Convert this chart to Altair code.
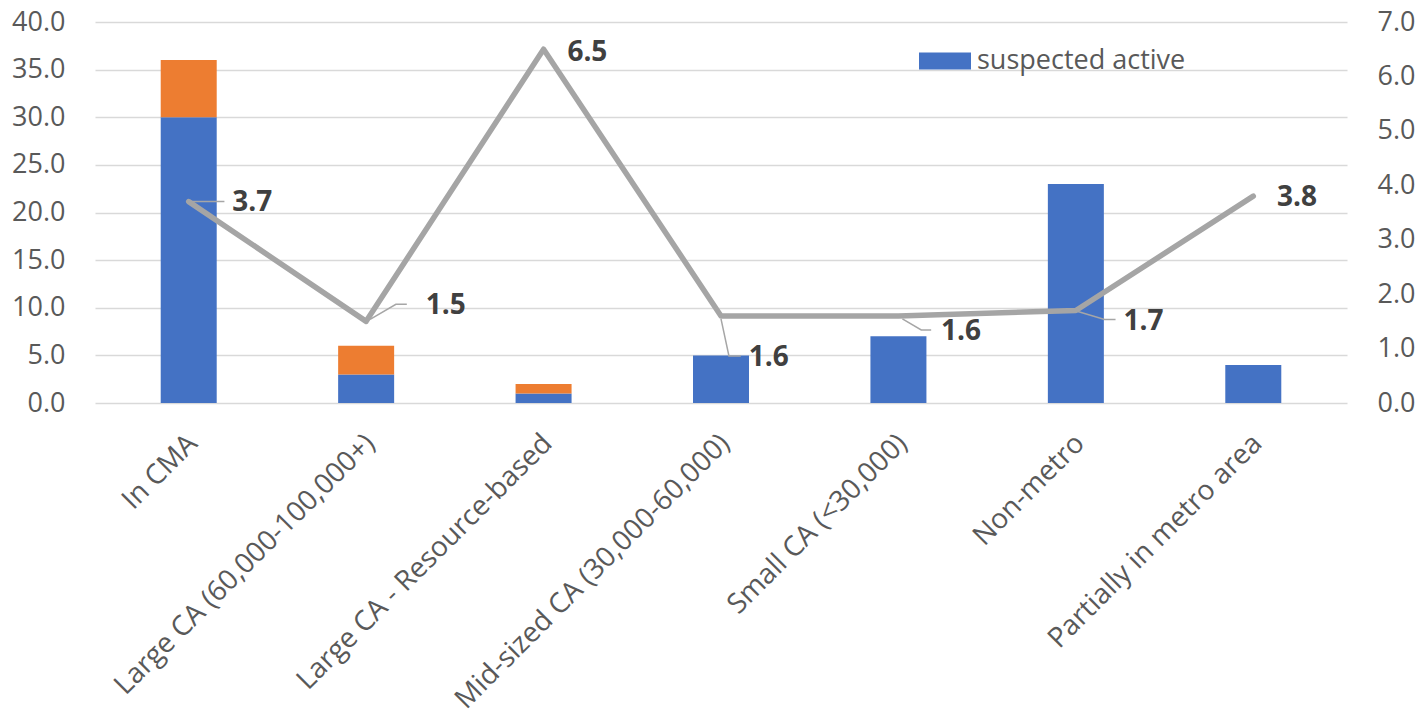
import json
import altair as alt
import pandas as pd

# ---- data ----
categories = [
    "In CMA",
    "Large CA (60,000-100,000+)",
    "Large CA - Resource-based",
    "Mid-sized CA (30,000-60,000)",
    "Small CA (<30,000)",
    "Non-metro",
    "Partially in metro area",
]
suspected_active = [30, 3, 1, 5, 7, 23, 4]
other_series = [6, 3, 1, 0, 0, 0, 0]
ratio = [3.7, 1.5, 6.5, 1.6, 1.6, 1.7, 3.8]
series_names = ["suspected active", "other"]

# ---- annotation layout (pixels, relative to each line point; +y is down) ----
leader_px = [
    [(0, 0), (18, 0), (36, 0)],
    [(4, -2), (30, -17), (41, -17)],
    None,
    [(0, 3), (8, 40), (20, 40)],
    [(4, 3), (23, 14), (33, 14)],
    [(2, 1), (29, 9), (40, 9)],
    None,
]
label_px = [(44, 1), (60, -15), (24, 4), (28, 42), (43, 16), (48, 12), (24, 2)]

W, H = 1252, 381
XU = W / 7.0   # px per category step
YU = H / 7.0   # px per right-axis unit

FONT = "Open Sans"
AX_COLOR = "#595959"
AX_SIZE = 27

# bars table
rows = []
for i, c in enumerate(categories):
    rows.append({"i": i, "series": series_names[0], "value": suspected_active[i], "ord": 0})
    rows.append({"i": i, "series": series_names[1], "value": other_series[i], "ord": 1})
bars_df = pd.DataFrame(rows)

line_df = pd.DataFrame({"i": list(range(len(categories))), "y": ratio, "ratio": ratio})

lead_rows = []
for i, pts in enumerate(leader_px):
    if pts is None:
        continue
    for k, (dx, dy) in enumerate(pts):
        lead_rows.append({"id": i, "k": k, "i": i + dx / XU, "y": ratio[i] - dy / YU})
lead_df = pd.DataFrame(lead_rows)

lab_df = pd.DataFrame({
    "i": [i + label_px[i][0] / XU for i in range(len(ratio))],
    "y": [ratio[i] - label_px[i][1] / YU for i in range(len(ratio))],
    "ratio": ratio,
})

label_expr = json.dumps(categories) + "[datum.value]"

x_scale = alt.Scale(domain=[-0.5, 6.5], nice=False, zero=False)
x_axis = alt.Axis(
    values=list(range(7)), labelExpr=label_expr, labelAngle=-45,
    labelAlign="right", labelBaseline="middle", labelPadding=36, labelOffset=4,
    labelFontSize=28, labelColor=AX_COLOR, labelFont=FONT, grid=False, ticks=False,
    domain=False, title=None, labelOverlap=False, labelFlush=False, labelBound=False,
    labelLimit=600)

right_y = alt.Scale(domain=[0, 7], nice=False)
right_axis = alt.Axis(
    orient="right", values=list(range(8)), format=".1f", grid=False, domain=False,
    ticks=False, tickSize=0, labelPadding=30, labelFontSize=AX_SIZE, labelColor=AX_COLOR,
    labelFont=FONT, title=None, labelOverlap=False)


def X():
    return alt.X("i:Q", scale=x_scale, axis=x_axis)


def YR():
    return alt.Y("y:Q", scale=right_y, axis=right_axis)


bars = alt.Chart(bars_df).mark_bar(size=56).encode(
    x=X(),
    y=alt.Y("value:Q", stack=True, scale=alt.Scale(domain=[0, 40], nice=False), axis=alt.Axis(
        values=list(range(0, 41, 5)), format=".1f", grid=True, gridColor="#d9d9d9",
        gridWidth=1.5, domain=False, ticks=False, tickSize=0, labelPadding=30,
        labelFontSize=AX_SIZE, labelColor=AX_COLOR, labelFont=FONT, title=None)),
    color=alt.Color("series:N", scale=alt.Scale(domain=series_names, range=["#4472C4", "#ED7D31"]),
                    legend=alt.Legend(values=["suspected active"], orient="none", legendX=824, legendY=13,
                                      title=None, symbolType="M-1,-0.33H1V0.33H-1Z", symbolSize=2704,
                                      symbolStrokeWidth=0, labelFontSize=AX_SIZE, labelColor=AX_COLOR,
                                      labelFont=FONT, padding=0, labelOffset=6, labelLimit=500)),
    order=alt.Order("ord:Q"),
)

line = alt.Chart(line_df).mark_line(color="#A5A5A5", strokeWidth=5.5, strokeCap="round",
                                    strokeJoin="round").encode(x=X(), y=YR())

leaders = alt.Chart(lead_df).mark_line(color="#A6A6A6", strokeWidth=1.5).encode(
    x=X(), y=YR(), detail="id:N", order="k:Q",
)

labels = alt.Chart(lab_df).mark_text(align="left", baseline="middle", fontSize=28,
                                     fontWeight="bold", font=FONT, color="#404040").encode(
    x=X(), y=YR(), text=alt.Text("ratio:Q", format=".1f"),
)

right_layer = alt.layer(line, leaders, labels)

chart = alt.layer(bars, right_layer).resolve_scale(y="independent").properties(
    width=W, height=H,
    autosize=alt.AutoSizeParams(type="none"),
    padding={"left": 95, "top": 22, "right": 75, "bottom": 313},
    background="white",
).configure_view(stroke=None)

chart.save("out.html", embed_options={"renderer": "svg", "actions": False})
